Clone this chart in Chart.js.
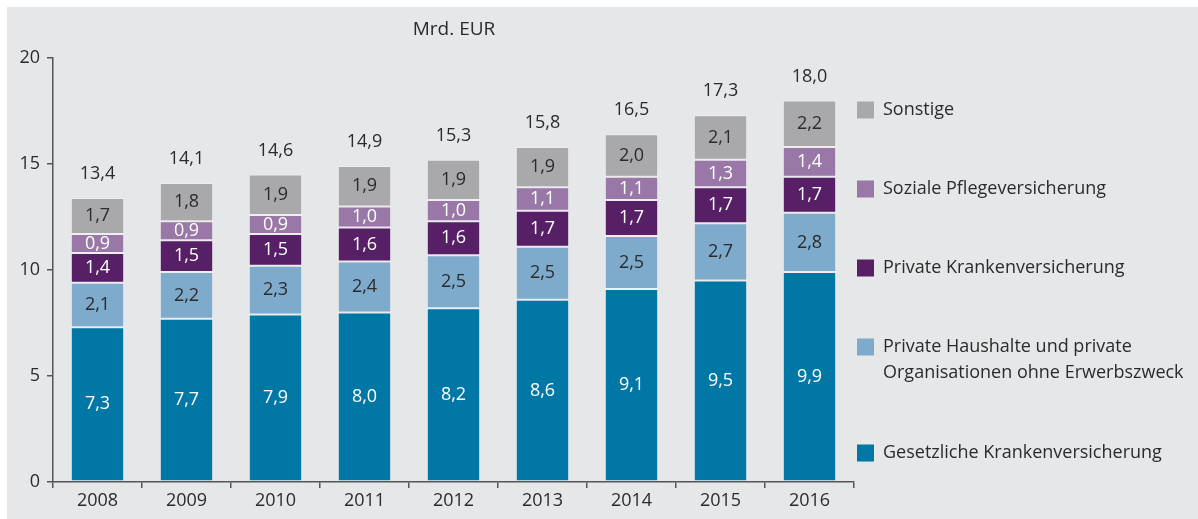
<!DOCTYPE html>
<html>
<head>
<meta charset="utf-8">
<script src="https://cdn.jsdelivr.net/npm/chart.js@4/dist/chart.umd.min.js"></script>
<style>
  html, body { margin: 0; padding: 0; background: #fff; }
  #wrap { width: 1198px; height: 519px; }
</style>
</head>
<body>
<div id="wrap"><canvas id="chart"></canvas></div>
<script>
// Daten (Mrd. EUR)
const years = ["2008", "2009", "2010", "2011", "2012", "2013", "2014", "2015", "2016"];
const gesetzliche = [7.3, 7.7, 7.9, 8.0, 8.2, 8.6, 9.1, 9.5, 9.9];
const privateHaushalte = [2.1, 2.2, 2.3, 2.4, 2.5, 2.5, 2.5, 2.7, 2.8];
const privateKranken = [1.4, 1.5, 1.5, 1.6, 1.6, 1.7, 1.7, 1.7, 1.7];
const sozialePflege = [0.9, 0.9, 0.9, 1.0, 1.0, 1.1, 1.1, 1.3, 1.4];
const sonstige = [1.7, 1.8, 1.9, 1.9, 1.9, 1.9, 2.0, 2.1, 2.2];
const totals = [13.4, 14.1, 14.6, 14.9, 15.3, 15.8, 16.5, 17.3, 18.0];
const yTicks = [0, 5, 10, 15, 20];
const unitLabel = "Mrd. EUR";

const FONT = "'Open Sans', 'Noto Sans', sans-serif";
const TEXT = "#2b2b2b";
const AXIS = "#555";

const fmt = v => v.toFixed(1).replace(".", ",");

const datasets = [
  { label: "Gesetzliche Krankenversicherung", data: gesetzliche, backgroundColor: "#0077a5", valueColor: "#fff",
    legendLines: ["Gesetzliche Krankenversicherung"], legendY: 453 },
  { label: "Private Haushalte und private Organisationen ohne Erwerbszweck", data: privateHaushalte, backgroundColor: "#7eaacb", valueColor: TEXT,
    legendLines: ["Private Haushalte und private", "Organisationen ohne Erwerbszweck"], legendY: 347 },
  { label: "Private Krankenversicherung", data: privateKranken, backgroundColor: "#561f66", valueColor: "#fff",
    legendLines: ["Private Krankenversicherung"], legendY: 268 },
  { label: "Soziale Pflegeversicherung", data: sozialePflege, backgroundColor: "#9977a7", valueColor: "#fff",
    legendLines: ["Soziale Pflegeversicherung"], legendY: 189 },
  { label: "Sonstige", data: sonstige, backgroundColor: "#a9a9ac", valueColor: TEXT,
    legendLines: ["Sonstige"], legendY: 110 }
].map(d => Object.assign(d, {
  borderColor: "rgba(255,255,255,0.35)",
  borderWidth: 1,
  borderSkipped: false,
  barPercentage: 0.6,
  categoryPercentage: 1.0
}));

// Hintergrund, Werte, Summen, Einheit und Legende
const decor = {
  id: "decor",
  beforeDraw(chart) {
    const ctx = chart.ctx;
    ctx.save();
    ctx.fillStyle = "#fff";
    ctx.fillRect(0, 0, chart.width, chart.height);
    ctx.fillStyle = "#e6e7e9";
    ctx.fillRect(7, 7, chart.width - 7, chart.height - 7);
    ctx.restore();
  },
  afterDatasetsDraw(chart) {
    const ctx = chart.ctx;
    ctx.save();
    ctx.font = "18px " + FONT;
    ctx.textAlign = "center";
    ctx.textBaseline = "middle";
    chart.data.datasets.forEach((ds, i) => {
      chart.getDatasetMeta(i).data.forEach((el, j) => {
        ctx.fillStyle = ds.valueColor;
        ctx.fillText(fmt(ds.data[j]), el.x, (el.y + el.base) / 2);
      });
    });
    // Summen
    const top = chart.getDatasetMeta(chart.data.datasets.length - 1).data;
    ctx.fillStyle = TEXT;
    top.forEach((el, j) => ctx.fillText(fmt(totals[j]), el.x, el.y - 24));
    // Einheit
    ctx.font = "19px " + FONT;
    ctx.fillText(unitLabel, 454, 30);
    // Legende
    ctx.font = "18px " + FONT;
    ctx.textAlign = "left";
    chart.data.datasets.forEach(ds => {
      ctx.fillStyle = ds.backgroundColor;
      ctx.fillRect(857, ds.legendY - 8.5, 17, 17);
      ctx.fillStyle = TEXT;
      ds.legendLines.forEach((line, k) => ctx.fillText(line, 883, ds.legendY + k * 26));
    });
    ctx.restore();
  }
};

new Chart(document.getElementById("chart"), {
  type: "bar",
  data: { labels: years, datasets: datasets },
  options: {
    responsive: true,
    maintainAspectRatio: false,
    animation: false,
    layout: { padding: { left: 0, top: 58, right: 344, bottom: 0 } },
    plugins: { legend: { display: false }, tooltip: { enabled: false } },
    scales: {
      x: {
        stacked: true,
        afterFit(scale) { scale.height = 37; },
        grid: { drawOnChartArea: false, drawTicks: true, tickLength: 6, color: AXIS, lineWidth: 1.5, offset: true },
        border: { display: true, color: AXIS, width: 1.5 },
        ticks: { color: TEXT, font: { family: FONT, size: 18 }, padding: 2 }
      },
      y: {
        stacked: true,
        min: yTicks[0],
        max: yTicks[yTicks.length - 1],
        afterFit(scale) { scale.width = 53; },
        afterBuildTicks(scale) { scale.ticks = yTicks.map(v => ({ value: v })); },
        grid: { drawOnChartArea: false, drawTicks: true, tickLength: 6, color: AXIS, lineWidth: 1.5 },
        border: { display: true, color: AXIS, width: 1.5 },
        ticks: { color: TEXT, font: { family: FONT, size: 18 }, padding: 7 }
      }
    }
  },
  plugins: [decor]
});
</script>
</body>
</html>
